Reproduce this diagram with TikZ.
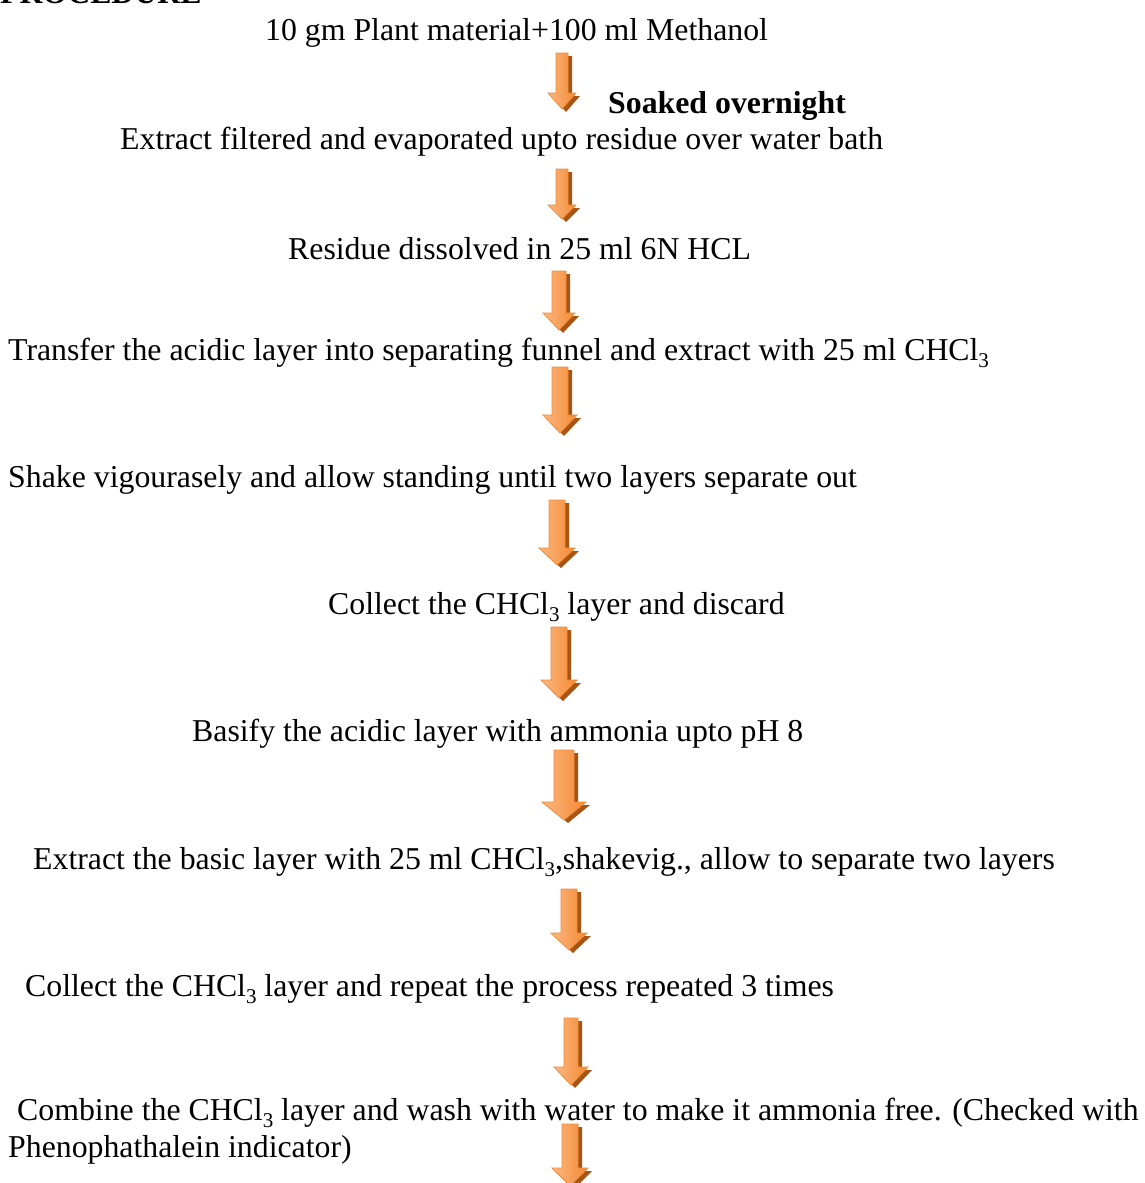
\documentclass[tikz,border=0pt]{standalone}
\usepackage{fontspec}
\setmainfont{Liberation Serif}
\definecolor{arrfill}{HTML}{F58A32}
\definecolor{arrlight}{HTML}{FAB782}
\definecolor{arredge}{HTML}{F08C3A}
\definecolor{arrshadow}{HTML}{A85413}
\newcommand\chcl{CHCl\raisebox{-0.22em}{\fontsize{21}{21}\selectfont 3}}
% cx, top, headstart, tip, shaft half width, head half width
\newcommand\blockarrow[6]{%
  \fill[arrshadow,shift={(4,3)}] (#1-#5,#2) -- (#1+#5,#2) -- (#1+#5,#3) -- (#1+#6,#3) -- (#1,#4) -- (#1-#6,#3) -- (#1-#5,#3) -- cycle;
  \shade[left color=arrlight, right color=arrfill, draw=arredge, line width=0.8pt]
    (#1-#5,#2) -- (#1+#5,#2) -- (#1+#5,#3) -- (#1+#6,#3) -- (#1,#4) -- (#1-#6,#3) -- (#1-#5,#3) -- cycle;
}
\tikzset{
  txt/.style={anchor=base west, inner sep=0pt, font=\fontsize{31.8}{38}\selectfont},
  btxt/.style={txt, font=\fontsize{31.8}{38}\selectfont\bfseries}
}
\begin{document}
\begin{tikzpicture}[x=1pt,y=-1pt]
\useasboundingbox (0,0) rectangle (1144,1183);
\clip (0,0) rectangle (1144,1183);
\fill[white] (0,0) rectangle (1144,1183);

\node[btxt] (title) at (0,4) {PROCEDURE};
\node[txt] (s1) at (265,40) {10 gm Plant material+100 ml Methanol};
\node[btxt] (soak) at (608,113) {Soaked overnight};
\node[txt] (s2) at (120,149) {Extract filtered and evaporated upto residue over water bath};
\node[txt] (s3) at (288,259) {Residue dissolved in 25 ml 6N HCL};
\node[txt] (s4) at (8,360) {Transfer the acidic layer into separating funnel and extract with 25 ml \chcl};
\node[txt] (s5) at (8,487) {Shake vigourasely and allow standing until two layers separate out};
\node[txt] (s6) at (328,614) {Collect the \chcl{} layer and discard};
\node[txt] (s7) at (192,741) {Basify the acidic layer with ammonia upto pH 8};
\node[txt] (s8) at (33,869) {Extract the basic layer with 25 ml \chcl,shakevig., allow to separate two layers};
\node[txt] (s9) at (25,996) {Collect the \chcl{} layer and repeat the process repeated 3 times};
\node[txt] (s10) at (17,1120) {Combine the \chcl{} layer and wash with water to make it ammonia free. (Checked with};
\node[txt] (s11) at (8,1157) {Phenophathalein indicator)};

\blockarrow{562}{53}{93}{109}{6}{14}
\blockarrow{562}{169}{205}{219}{6}{14}
\blockarrow{559}{271}{313}{330}{7}{16}
\blockarrow{560}{367}{415}{433}{8}{17}
\blockarrow{557}{500}{548}{565}{8}{18}
\blockarrow{559}{627}{680}{698}{8}{18}
\blockarrow{564}{750}{802}{820}{10}{22}
\blockarrow{569}{889}{933}{950}{8}{18}
\blockarrow{571}{1018}{1067}{1085}{7}{17}
\blockarrow{570}{1124}{1168}{1186}{8}{18}
\end{tikzpicture}
\end{document}
